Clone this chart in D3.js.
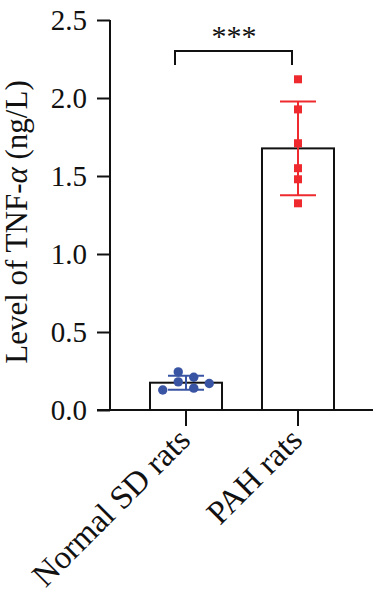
<!DOCTYPE html>
<html><head><meta charset="utf-8">
<script src="https://cdn.jsdelivr.net/npm/d3@7"></script>
<style>body{margin:0;background:#fff}svg{display:block}</style>
</head><body><svg id="c" width="374" height="604"></svg>
<script>
const categories = ["Normal SD rats", "PAH rats"];
const means = [0.175, 1.677];
const sds = [0.045, 0.30];
const normalPoints = [0.128, 0.244, 0.18, 0.21, 0.14, 0.17];
const pahPoints = [2.12, 1.927, 1.71, 1.55, 1.479, 1.325];
const yTicks = [0, 0.5, 1.0, 1.5, 2.0, 2.5];
const sigLabel = "***";

const FONT = "'Liberation Serif', 'Times New Roman', serif";
const svg = d3.select("#c");
const y = d3.scaleLinear().domain([0, 2.5]).range([410, 20]);
const x = d3.scaleBand().domain(categories).range([116.4, 367.6]).paddingInner(0.357).paddingOuter(0.3);
const xc = c => x(c) + x.bandwidth() / 2;
const black = "#111";

// bars
svg.selectAll("rect.bar").data(categories).join("rect")
  .attr("x", d => x(d)).attr("width", x.bandwidth())
  .attr("y", (d, i) => y(means[i])).attr("height", (d, i) => y(0) - y(means[i]))
  .attr("fill", "#fff").attr("stroke", black).attr("stroke-width", 2);

// y axis
const ya = svg.append("g").attr("transform", "translate(110,0)")
  .call(d3.axisLeft(y).tickValues(yTicks).tickFormat(d3.format(".1f")).tickSize(13).tickPadding(10));
ya.select(".domain").attr("stroke", black).attr("stroke-width", 2).attr("d", "M0," + y(2.5) + "V" + y(0));
ya.selectAll(".tick line").attr("stroke", black).attr("stroke-width", 2);
ya.selectAll(".tick text").style("font-size", "29px").style("font-family", FONT).attr("fill", black).attr("dy", "0.34em");

// x axis
const xa = svg.append("g").attr("transform", "translate(0,410)")
  .call(d3.axisBottom(x).tickSize(16).tickFormat(""));
xa.select(".domain").attr("stroke", black).attr("stroke-width", 2).attr("d", "M97,0H373");
xa.selectAll(".tick line").attr("stroke", black).attr("stroke-width", 2);
svg.selectAll("text.xl").data(categories).join("text").attr("class", "xl")
  .attr("transform", d => `translate(${xc(d) + 6},${442}) rotate(-45)`)
  .attr("text-anchor", "end").style("font-size", "33px").style("font-family", FONT).attr("fill", black).text(d => d);

// y label
const yl = svg.append("text").attr("transform", "translate(27,222) rotate(-90)")
  .attr("text-anchor", "middle").style("font-size", "31px").style("font-family", FONT).attr("fill", black);
yl.append("tspan").text("Level of TNF-");
yl.append("tspan").style("font-style", "italic").text("α");
yl.append("tspan").text(" (ng/L)");

// error bars + points
const colors = ["#3a54a4", "#ee2a2e"];
const slots = [-1.5, -0.5, -0.5, 0.5, 0.5, 1.5];
categories.forEach((c, i) => {
  const cx = xc(c), col = colors[i];
  const g = svg.append("g").attr("stroke", col).attr("stroke-width", 2);
  g.append("line").attr("x1", cx).attr("x2", cx).attr("y1", y(means[i] + sds[i])).attr("y2", y(means[i] - sds[i]));
  [means[i] + sds[i], means[i] - sds[i]].forEach(v =>
    g.append("line").attr("x1", cx - 18).attr("x2", cx + 18).attr("y1", y(v)).attr("y2", y(v)));
});
const c0 = xc(categories[0]);
svg.selectAll("circle.pt").data(normalPoints).join("circle")
  .attr("cx", (d, i) => c0 + slots[i] * 15.5).attr("cy", d => y(d)).attr("r", 4.7).attr("fill", colors[0]);
const c1 = xc(categories[1]);
svg.selectAll("rect.pt").data(pahPoints).join("rect")
  .attr("x", c1 - 4).attr("y", d => y(d) - 4).attr("width", 8).attr("height", 8).attr("fill", colors[1]);

// significance bracket
const by = 51;
svg.append("path").attr("d", `M${c0 - 11},65V${by}H${c1 - 6}V65`).attr("fill", "none").attr("stroke", black).attr("stroke-width", 2);
svg.append("text").attr("x", (c0 + c1) / 2 - 8).attr("y", 46).attr("text-anchor", "middle")
  .style("font-size", "30px").style("font-family", FONT).attr("fill", black).text(sigLabel);
</script></body></html>
